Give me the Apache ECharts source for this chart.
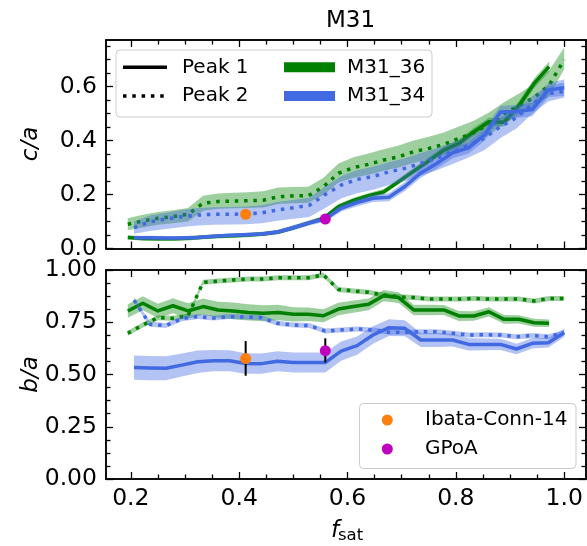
<!DOCTYPE html>
<html><head><meta charset="utf-8">
<script src="https://cdn.jsdelivr.net/npm/echarts@6/dist/echarts.min.js"></script>
<style>html,body{margin:0;padding:0;background:#fff}#c{width:587px;height:546px}</style>
</head><body><div id="c"></div>
<script>
// ---------- x positions (satellite fractions) ----------
const x34 = [0.2059,0.2353,0.2647,0.2941,0.3235,0.3529,0.3824,0.4118,0.4412,0.4706,0.5,0.5294,0.5588,0.5882,0.6176,0.6471,0.6765,0.7059,0.7353,0.7647,0.7941,0.8235,0.8529,0.8824,0.9118,0.9412,0.9706,1.0];
const x36 = [0.1944,0.2222,0.25,0.2778,0.3056,0.3333,0.3611,0.3889,0.4167,0.4444,0.4722,0.5,0.5278,0.5556,0.5833,0.6111,0.6389,0.6667,0.6944,0.7222,0.75,0.7778,0.8056,0.8333,0.8611,0.8889,0.9167,0.9444,0.9722,1.0];

// ---------- top panel: c/a ----------
const m36_ca_p1    = [0.041,0.037,0.036,0.036,0.038,0.042,0.045,0.047,0.050,0.054,0.061,0.077,0.094,0.112,0.155,0.178,0.196,0.210,0.248,0.287,0.325,0.365,0.390,0.433,0.470,0.468,0.530,0.612,0.674];
const m36_ca_p1_lo = [0.033,0.029,0.028,0.028,0.030,0.034,0.037,0.039,0.042,0.046,0.053,0.069,0.086,0.104,0.145,0.168,0.186,0.199,0.237,0.275,0.312,0.352,0.376,0.418,0.455,0.452,0.513,0.594,0.655];
const m36_ca_p1_hi = [0.049,0.045,0.044,0.044,0.046,0.050,0.053,0.055,0.058,0.062,0.069,0.085,0.102,0.120,0.165,0.188,0.206,0.221,0.259,0.299,0.338,0.378,0.404,0.448,0.485,0.484,0.547,0.630,0.693];

const m36_ca_p2    = [0.090,0.102,0.112,0.118,0.127,0.168,0.174,0.176,0.177,0.179,0.192,0.195,0.196,0.229,0.279,0.300,0.312,0.328,0.340,0.359,0.371,0.386,0.408,0.430,0.460,0.500,0.530,0.560,0.605,0.700];
const m36_ca_p2_lo = [0.068,0.078,0.088,0.094,0.100,0.140,0.147,0.149,0.150,0.152,0.165,0.168,0.170,0.198,0.245,0.262,0.273,0.288,0.300,0.318,0.330,0.345,0.366,0.388,0.420,0.462,0.494,0.525,0.565,0.665];
const m36_ca_p2_hi = [0.112,0.125,0.135,0.142,0.150,0.196,0.204,0.207,0.209,0.212,0.226,0.228,0.229,0.262,0.315,0.338,0.352,0.368,0.382,0.400,0.414,0.430,0.452,0.474,0.504,0.542,0.575,0.610,0.660,0.745];

const m34_ca_p1    = [0.040,0.040,0.039,0.039,0.041,0.045,0.049,0.051,0.054,0.061,0.077,0.095,0.109,0.149,0.170,0.186,0.190,0.230,0.280,0.315,0.355,0.373,0.421,0.506,0.508,0.515,0.588,0.596];
const m34_ca_p1_lo = [0.033,0.033,0.032,0.032,0.034,0.038,0.042,0.044,0.047,0.053,0.068,0.085,0.099,0.137,0.157,0.172,0.175,0.213,0.262,0.296,0.335,0.352,0.399,0.483,0.484,0.490,0.562,0.565];
const m34_ca_p1_hi = [0.047,0.047,0.046,0.046,0.048,0.052,0.056,0.058,0.061,0.069,0.086,0.105,0.119,0.161,0.183,0.200,0.205,0.247,0.298,0.334,0.375,0.394,0.443,0.529,0.532,0.540,0.614,0.627];

const m34_ca_p2    = [0.077,0.099,0.109,0.118,0.124,0.127,0.127,0.128,0.132,0.143,0.151,0.160,0.200,0.235,0.256,0.267,0.284,0.297,0.316,0.335,0.358,0.382,0.410,0.452,0.485,0.535,0.574,0.583];
const m34_ca_p2_lo = [0.055,0.065,0.072,0.080,0.085,0.088,0.089,0.090,0.094,0.103,0.110,0.117,0.150,0.185,0.205,0.218,0.235,0.250,0.270,0.290,0.313,0.337,0.365,0.410,0.445,0.500,0.545,0.560];
const m34_ca_p2_hi = [0.100,0.122,0.133,0.143,0.150,0.153,0.154,0.156,0.160,0.172,0.180,0.188,0.230,0.268,0.290,0.303,0.320,0.335,0.354,0.372,0.393,0.415,0.443,0.485,0.518,0.565,0.603,0.615];

// ---------- bottom panel: b/a ----------
const m36_ba_p1    = [0.804,0.841,0.804,0.829,0.804,0.825,0.809,0.804,0.797,0.793,0.797,0.788,0.788,0.781,0.813,0.825,0.836,0.877,0.868,0.809,0.809,0.809,0.780,0.780,0.800,0.764,0.764,0.748,0.745];
const m36_ba_p1_lo = [0.772,0.808,0.770,0.793,0.767,0.786,0.770,0.764,0.758,0.755,0.760,0.754,0.756,0.750,0.783,0.796,0.808,0.850,0.842,0.784,0.784,0.785,0.756,0.757,0.778,0.743,0.744,0.729,0.727];
const m36_ba_p1_hi = [0.836,0.874,0.838,0.865,0.841,0.864,0.848,0.844,0.836,0.831,0.834,0.822,0.820,0.812,0.843,0.854,0.864,0.904,0.894,0.834,0.834,0.833,0.804,0.803,0.822,0.785,0.784,0.767,0.763];

const m36_ba_p2    = [0.697,0.737,0.772,0.769,0.780,0.941,0.947,0.952,0.957,0.957,0.963,0.963,0.963,0.976,0.907,0.900,0.893,0.880,0.872,0.868,0.861,0.861,0.861,0.864,0.861,0.861,0.861,0.852,0.864,0.864];
const m36_ba_p2_lo = [0.685,0.725,0.760,0.757,0.768,0.929,0.935,0.940,0.945,0.945,0.951,0.951,0.951,0.964,0.895,0.888,0.881,0.868,0.860,0.856,0.849,0.849,0.849,0.852,0.849,0.849,0.849,0.840,0.852,0.852];
const m36_ba_p2_hi = [0.709,0.749,0.784,0.781,0.792,0.953,0.959,0.964,0.969,0.969,0.975,0.975,0.975,0.988,0.919,0.912,0.905,0.892,0.884,0.880,0.873,0.873,0.873,0.876,0.873,0.873,0.873,0.864,0.876,0.876];

const m34_ba_p1    = [0.533,0.531,0.530,0.545,0.561,0.566,0.566,0.553,0.552,0.563,0.557,0.557,0.557,0.612,0.638,0.689,0.724,0.721,0.665,0.665,0.665,0.644,0.644,0.644,0.622,0.649,0.652,0.700];
const m34_ba_p1_lo = [0.475,0.473,0.473,0.490,0.507,0.515,0.516,0.504,0.504,0.515,0.509,0.509,0.509,0.566,0.594,0.647,0.684,0.683,0.631,0.632,0.634,0.615,0.616,0.617,0.597,0.625,0.629,0.680];
const m34_ba_p1_hi = [0.591,0.589,0.587,0.600,0.615,0.617,0.616,0.602,0.600,0.611,0.605,0.605,0.605,0.658,0.682,0.731,0.764,0.759,0.699,0.698,0.696,0.673,0.672,0.671,0.647,0.673,0.675,0.720];

const m34_ba_p2    = [0.856,0.740,0.734,0.767,0.777,0.770,0.777,0.775,0.772,0.745,0.737,0.734,0.708,0.713,0.718,0.713,0.702,0.702,0.705,0.705,0.697,0.689,0.690,0.689,0.681,0.686,0.681,0.700];
const m34_ba_p2_lo = [0.844,0.728,0.722,0.755,0.765,0.758,0.765,0.763,0.760,0.733,0.725,0.722,0.696,0.701,0.706,0.701,0.690,0.690,0.693,0.693,0.685,0.677,0.678,0.677,0.669,0.674,0.669,0.688];
const m34_ba_p2_hi = [0.868,0.752,0.746,0.779,0.789,0.782,0.789,0.787,0.784,0.757,0.749,0.746,0.720,0.725,0.730,0.725,0.714,0.714,0.717,0.717,0.709,0.701,0.702,0.701,0.693,0.698,0.693,0.712];

// ---------- observations ----------
const obsNames = ['Ibata-Conn-14', 'GPoA'];
const obsColors = ['#ff7f0e', '#bf00bf'];
const obsX = [0.412, 0.559];
const obsCa = [0.127, 0.109];
const obsBa = [0.576, 0.614];
const obsBaLo = [0.494, 0.558];
const obsBaHi = [0.660, 0.673];

// ---------- ticks ----------
const xMajor = [0.2, 0.4, 0.6, 0.8, 1.0];
const xMinor = [0.25, 0.3, 0.35, 0.45, 0.5, 0.55, 0.65, 0.7, 0.75, 0.85, 0.9, 0.95];
const yTopMajor = [0, 0.2, 0.4, 0.6];
const yTopMinor = [0.05, 0.1, 0.15, 0.25, 0.3, 0.35, 0.45, 0.5, 0.55, 0.65, 0.7, 0.75];
const yBotMajor = [0, 0.25, 0.5, 0.75, 1.0];
const yBotMinor = [0.0625, 0.125, 0.1875, 0.3125, 0.375, 0.4375, 0.5625, 0.625, 0.6875, 0.8125, 0.875, 0.9375];

const X_MIN = 0.15417, X_MAX = 1.04028;
const Y_TOP_MAX = 0.773;

const FONT = 'DejaVu Sans';
const TICK_FS = 23.5;
const GREEN = '#008000', BLUE = '#4169e1';
const GREEN_BAND = 'rgba(0,128,0,0.38)', BLUE_BAND = 'rgba(65,105,225,0.4)';

function xAx(gi, pos, ticks, len, labels) {
  return {
    type: 'value', gridIndex: gi, position: pos, min: X_MIN, max: X_MAX,
    axisLine: {show: true, onZero: false, lineStyle: {color: '#000', width: 1.5}},
    axisTick: {show: true, inside: true, length: len, customValues: ticks, lineStyle: {color: '#000', width: 1.3}},
    axisLabel: {show: !!labels, customValues: ticks, margin: 8, fontSize: TICK_FS, fontFamily: FONT, color: '#000',
      formatter: v => v.toFixed(1)},
    splitLine: {show: false}
  };
}
function yAx(gi, pos, min, max, ticks, len, labels, dec) {
  return {
    type: 'value', gridIndex: gi, position: pos, min: min, max: max,
    axisLine: {show: true, onZero: false, lineStyle: {color: '#000', width: 1.5}},
    axisTick: {show: true, inside: true, length: len, customValues: ticks, lineStyle: {color: '#000', width: 1.3}},
    axisLabel: {show: !!labels, customValues: ticks, margin: 9, fontSize: TICK_FS, fontFamily: FONT, color: '#000',
      formatter: v => v.toFixed(dec)},
    splitLine: {show: false}
  };
}

const xAxes = [
  xAx(0, 'bottom', xMajor, 7, false), xAx(0, 'bottom', xMinor, 4.5, false),
  xAx(0, 'top', xMajor, 7, false), xAx(0, 'top', xMinor, 4.5, false),
  xAx(1, 'bottom', xMajor, 7, true), xAx(1, 'bottom', xMinor, 4.5, false),
  xAx(1, 'top', xMajor, 7, false), xAx(1, 'top', xMinor, 4.5, false)
];
const yAxes = [
  yAx(0, 'left', 0, Y_TOP_MAX, yTopMajor, 7, true, 1), yAx(0, 'left', 0, Y_TOP_MAX, yTopMinor, 4.5, false, 1),
  yAx(0, 'right', 0, Y_TOP_MAX, yTopMajor, 7, false, 1), yAx(0, 'right', 0, Y_TOP_MAX, yTopMinor, 4.5, false, 1),
  yAx(1, 'left', 0, 1, yBotMajor, 7, true, 2), yAx(1, 'left', 0, 1, yBotMinor, 4.5, false, 2),
  yAx(1, 'right', 0, 1, yBotMajor, 7, false, 2), yAx(1, 'right', 0, 1, yBotMinor, 4.5, false, 2)
];

function band(panel, xs, lo, hi, color, z) {
  const ai = panel * 4;
  return {
    type: 'custom', xAxisIndex: ai, yAxisIndex: ai, silent: true, z: z, animation: false,
    data: lo.map((v, i) => [xs[i], v, hi[i]]), encode: {x: 0, y: [1, 2]},
    renderItem: (params, api) => {
      if (params.dataIndex !== 0) return null;
      const pts = [];
      for (let i = 0; i < lo.length; i++) pts.push(api.coord([xs[i], hi[i]]));
      for (let i = lo.length - 1; i >= 0; i--) pts.push(api.coord([xs[i], lo[i]]));
      return {type: 'polygon', shape: {points: pts}, style: {fill: color}};
    }
  };
}
function line(panel, xs, ys, color, dotted, z) {
  const ai = panel * 4;
  return {
    type: 'line', xAxisIndex: ai, yAxisIndex: ai, z: z, silent: true, animation: false,
    data: ys.map((v, i) => [xs[i], v]), symbol: 'none', showSymbol: false,
    lineStyle: {color: color, width: 3.5, type: dotted ? [3.5, 5.8] : 'solid', cap: 'butt', join: 'round'}
  };
}

const series = [
  // M31_36 (green)
  band(0, x36, m36_ca_p1_lo, m36_ca_p1_hi, GREEN_BAND, 2),
  band(0, x36, m36_ca_p2_lo, m36_ca_p2_hi, GREEN_BAND, 2),
  line(0, x36, m36_ca_p1, GREEN, false, 3),
  line(0, x36, m36_ca_p2, GREEN, true, 3),
  band(1, x36, m36_ba_p1_lo, m36_ba_p1_hi, GREEN_BAND, 2),
  band(1, x36, m36_ba_p2_lo, m36_ba_p2_hi, GREEN_BAND, 2),
  line(1, x36, m36_ba_p1, GREEN, false, 3),
  line(1, x36, m36_ba_p2, GREEN, true, 3),
  // M31_34 (blue)
  band(0, x34, m34_ca_p1_lo, m34_ca_p1_hi, BLUE_BAND, 4),
  band(0, x34, m34_ca_p2_lo, m34_ca_p2_hi, BLUE_BAND, 4),
  line(0, x34, m34_ca_p1, BLUE, false, 5),
  line(0, x34, m34_ca_p2, BLUE, true, 5),
  band(1, x34, m34_ba_p1_lo, m34_ba_p1_hi, BLUE_BAND, 4),
  band(1, x34, m34_ba_p2_lo, m34_ba_p2_hi, BLUE_BAND, 4),
  line(1, x34, m34_ba_p1, BLUE, false, 5),
  line(1, x34, m34_ba_p2, BLUE, true, 5),
  // error bars (b/a)
  {
    type: 'custom', xAxisIndex: 4, yAxisIndex: 4, z: 6, silent: true, animation: false,
    data: obsX.map((x, i) => [x, obsBaLo[i], obsBaHi[i]]), encode: {x: 0, y: [1, 2]},
    renderItem: (params, api) => {
      const a = api.coord([api.value(0), api.value(1)]);
      const b = api.coord([api.value(0), api.value(2)]);
      return {type: 'line', shape: {x1: a[0], y1: a[1], x2: b[0], y2: b[1]}, style: {stroke: '#000', lineWidth: 2}};
    }
  }
];
obsNames.forEach((n, i) => {
  series.push({type: 'scatter', name: n, xAxisIndex: 0, yAxisIndex: 0, z: 7, silent: true, animation: false,
    symbol: 'circle', symbolSize: 11, itemStyle: {color: obsColors[i], opacity: 1}, data: [[obsX[i], obsCa[i]]]});
  series.push({type: 'scatter', name: n, xAxisIndex: 4, yAxisIndex: 4, z: 7, silent: true, animation: false,
    symbol: 'circle', symbolSize: 11, itemStyle: {color: obsColors[i], opacity: 1}, data: [[obsX[i], obsBa[i]]]});
});

const txt = (t, x, y, fs, extra) => Object.assign({
  type: 'text', z: 101,
  style: Object.assign({text: t, x: x, y: y, fontSize: fs, fontFamily: FONT, fill: '#000', align: 'left', verticalAlign: 'middle'}, extra || {})
});

const graphic = [
  // axis titles
  {type: 'text', z: 101, x: 31, y: 144, rotation: Math.PI / 2,
    style: {text: 'c/a', x: 0, y: 0, fontSize: 23, fontStyle: 'italic', fontFamily: FONT, fill: '#000', align: 'center', verticalAlign: 'middle'}},
  {type: 'text', z: 101, x: 31, y: 374.5, rotation: Math.PI / 2,
    style: {text: 'b/a', x: 0, y: 0, fontSize: 23, fontStyle: 'italic', fontFamily: FONT, fill: '#000', align: 'center', verticalAlign: 'middle'}},
  txt('f', 339, 531, 23, {align: 'right', fontStyle: 'italic'}),
  txt('sat', 338, 536, 16.5),
  // legend 1
  {type: 'rect', z: 100, shape: {x: 116, y: 50, width: 316, height: 67, r: 4},
    style: {fill: 'rgba(255,255,255,0.8)', stroke: '#cccccc', lineWidth: 1}},
  {type: 'line', z: 101, shape: {x1: 123, y1: 67.3, x2: 167, y2: 67.3}, style: {stroke: '#000', lineWidth: 3.5}},
  {type: 'line', z: 101, shape: {x1: 123, y1: 96, x2: 167, y2: 96}, style: {stroke: '#000', lineWidth: 3.5, lineDash: [3.5, 5.8], lineCap: 'butt'}},
  {type: 'line', z: 101, shape: {x1: 284, y1: 67.3, x2: 335, y2: 67.3}, style: {stroke: GREEN, lineWidth: 10, lineCap: 'butt'}},
  {type: 'line', z: 101, shape: {x1: 284, y1: 96, x2: 335, y2: 96}, style: {stroke: BLUE, lineWidth: 10, lineCap: 'butt'}},
  txt('Peak 1', 182, 67.3, 20),
  txt('Peak 2', 182, 96, 20),
  txt('M31_36', 347, 67.3, 20),
  txt('M31_34', 347, 96, 20),
  // legend 2
  {type: 'rect', z: 100, shape: {x: 359.5, y: 403.5, width: 216.5, height: 65, r: 4},
    style: {fill: 'rgba(255,255,255,0.8)', stroke: '#cccccc', lineWidth: 1}},
  {type: 'circle', z: 101, shape: {cx: 387.3, cy: 420, r: 5.5}, style: {fill: obsColors[0]}},
  {type: 'circle', z: 101, shape: {cx: 387.3, cy: 449, r: 5.5}, style: {fill: obsColors[1]}},
  txt(obsNames[0], 425, 420, 20),
  txt(obsNames[1], 425, 449, 20)
];

const chart = echarts.init(document.getElementById('c'), null, {renderer: 'canvas'});
chart.setOption({
  animation: false,
  backgroundColor: '#fff',
  title: {text: 'M31', left: 345.5, top: 5, textAlign: 'center',
    textStyle: {fontSize: 23, fontWeight: 'normal', fontFamily: FONT, color: '#000'}},
  grid: [
    {left: 106, right: 1, top: 40, height: 208.5, containLabel: false},
    {left: 106, right: 1, top: 270, height: 209, containLabel: false}
  ],
  xAxis: xAxes,
  yAxis: yAxes,
  series: series,
  graphic: graphic
});
</script></body></html>
